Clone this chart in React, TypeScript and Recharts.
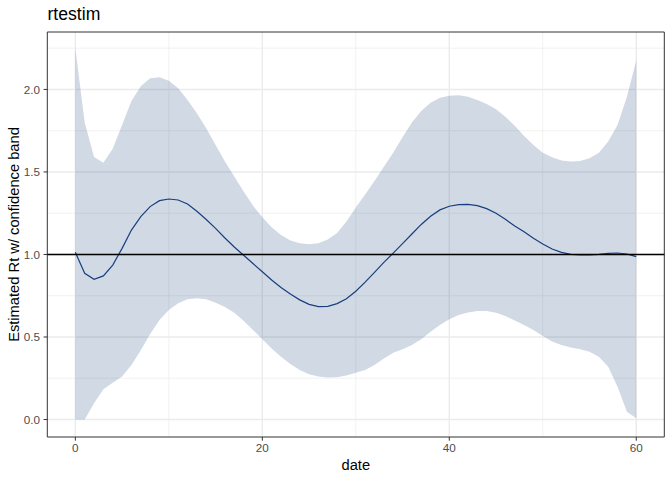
import React from 'react';
import {
  ComposedChart, Area, Line, XAxis, YAxis, CartesianGrid, ReferenceLine, ReferenceArea, Label,
} from 'recharts';

const dates = [
  0, 1, 2, 3, 4, 5, 6, 7, 8, 9, 10, 11, 12, 13, 14, 15, 16, 17, 18, 19, 20,
  21, 22, 23, 24, 25, 26, 27, 28, 29, 30, 31, 32, 33, 34, 35, 36, 37, 38, 39, 40,
  41, 42, 43, 44, 45, 46, 47, 48, 49, 50, 51, 52, 53, 54, 55, 56, 57, 58, 59, 60,
];

const rt = [
  1.013, 0.886, 0.85, 0.87, 0.936, 1.037, 1.148, 1.229, 1.29, 1.326, 1.336,
  1.33, 1.306, 1.262, 1.212, 1.158, 1.1, 1.045, 0.995, 0.945, 0.895,
  0.845, 0.8, 0.76, 0.725, 0.698, 0.684, 0.686, 0.702, 0.732, 0.777,
  0.832, 0.892, 0.952, 1.008, 1.066, 1.124, 1.182, 1.232, 1.27, 1.292,
  1.302, 1.304, 1.296, 1.278, 1.25, 1.213, 1.172, 1.138, 1.098, 1.064,
  1.033, 1.013, 1.001, 0.997, 0.997, 1.001, 1.007, 1.009, 1.003, 0.987,
];

const upper = [
  2.25, 1.8, 1.59, 1.555, 1.64, 1.785, 1.93, 2.02, 2.068, 2.074, 2.053,
  2.007, 1.936, 1.856, 1.765, 1.664, 1.563, 1.472, 1.381, 1.296, 1.225,
  1.165, 1.118, 1.084, 1.068, 1.062, 1.068, 1.09, 1.13, 1.2, 1.285,
  1.364, 1.445, 1.532, 1.617, 1.71, 1.8, 1.87, 1.92, 1.95, 1.962,
  1.964, 1.956, 1.936, 1.912, 1.88, 1.835, 1.78, 1.718, 1.664, 1.617,
  1.589, 1.569, 1.563, 1.567, 1.583, 1.617, 1.684, 1.785, 1.956, 2.175,
];

const lower = [
  0.0, 0.0, 0.098, 0.183, 0.223, 0.26, 0.33, 0.42, 0.518, 0.603, 0.664,
  0.704, 0.728, 0.734, 0.728, 0.708, 0.682, 0.647, 0.599, 0.542, 0.486,
  0.431, 0.38, 0.336, 0.3, 0.274, 0.26, 0.254, 0.256, 0.266, 0.284,
  0.3, 0.33, 0.37, 0.405, 0.425, 0.451, 0.486, 0.532, 0.573, 0.607,
  0.633, 0.649, 0.657, 0.657, 0.647, 0.627, 0.6, 0.573, 0.542, 0.506,
  0.472, 0.451, 0.437, 0.425, 0.411, 0.38, 0.32, 0.199, 0.047, 0.007,
];

const xTicks = [0, 20, 40, 60];
const yTicks = [0, 0.5, 1, 1.5, 2];
const xMinor = [10, 30, 50];
const yMinor = [0.25, 0.75, 1.25, 1.75, 2.25];

const X_DOMAIN: [number, number] = [-3, 63];
const Y_DOMAIN: [number, number] = [-0.106, 2.348];

const BLUE = '#173F7E';
const FONT = '"Liberation Sans", Arial, Helvetica, sans-serif';

const data = dates.map((d, i) => ({
  date: d,
  rt: rt[i],
  band: [lower[i], upper[i]],
}));

const App: React.FC = () => {
  return (
    <div className="wrap">
      <div className="plot-title">rtestim</div>
      <ComposedChart
        width={672}
        height={480}
        data={data}
        margin={{ top: 32, right: 7.7, bottom: 0, left: 0 }}
        style={{ fontFamily: FONT }}
      >
        <CartesianGrid
          stroke="#EBEBEB"
          strokeWidth={0.7}
          horizontalValues={yMinor}
          verticalValues={xMinor}
        />
        <CartesianGrid
          stroke="#EBEBEB"
          strokeWidth={1.4}
          horizontalValues={yTicks}
          verticalValues={xTicks}
        />
        <XAxis
          dataKey="date"
          type="number"
          domain={X_DOMAIN}
          ticks={xTicks}
          allowDataOverflow
          height={43}
          axisLine={false}
          tickSize={3.7}
          tickMargin={3}
          tickLine={{ stroke: '#333333', strokeWidth: 1 }}
          tick={{ fill: '#4D4D4D', fontSize: 11.7 }}
        >
          <Label value="date" position="insideBottom" offset={10} fill="#000" fontSize={14.7} />
        </XAxis>
        <YAxis
          type="number"
          domain={Y_DOMAIN}
          ticks={yTicks}
          allowDataOverflow
          width={47.3}
          axisLine={false}
          tickSize={3.7}
          tickMargin={3.5}
          tickLine={{ stroke: '#333333', strokeWidth: 1 }}
          tick={{ fill: '#4D4D4D', fontSize: 11.7 }}
          tickFormatter={(v: number) => v.toFixed(1)}
        >
          <Label
            value="Estimated Rt w/ confidence band"
            position="insideLeft"
            angle={-90}
            offset={14}
            fill="#000"
            fontSize={14.7}
            style={{ textAnchor: 'middle' }}
          />
        </YAxis>
        <Area
          dataKey="band"
          type="linear"
          stroke="none"
          fill={BLUE}
          fillOpacity={0.2}
          isAnimationActive={false}
          dot={false}
          activeDot={false}
        />
        <Line
          dataKey="rt"
          type="linear"
          stroke={BLUE}
          strokeWidth={1.2}
          dot={false}
          activeDot={false}
          isAnimationActive={false}
        />
        <ReferenceLine y={1} stroke="#000000" strokeWidth={1.4} />
        <ReferenceArea
          x1={X_DOMAIN[0]}
          x2={X_DOMAIN[1]}
          y1={Y_DOMAIN[0]}
          y2={Y_DOMAIN[1]}
          fill="none"
          stroke="#333333"
          strokeWidth={1}
          ifOverflow="visible"
        />
      </ComposedChart>

      <style>{`
        body { margin: 0; background: #fff; }
        .wrap {
          position: relative;
          width: 672px;
          height: 480px;
          background: #fff;
        }
        .plot-title {
          position: absolute;
          left: 47.5px;
          top: 4px;
          font-family: ${FONT};
          font-size: 17.6px;
          color: #000;
          line-height: 20px;
        }
      `}</style>
    </div>
  );
};

export default App;
